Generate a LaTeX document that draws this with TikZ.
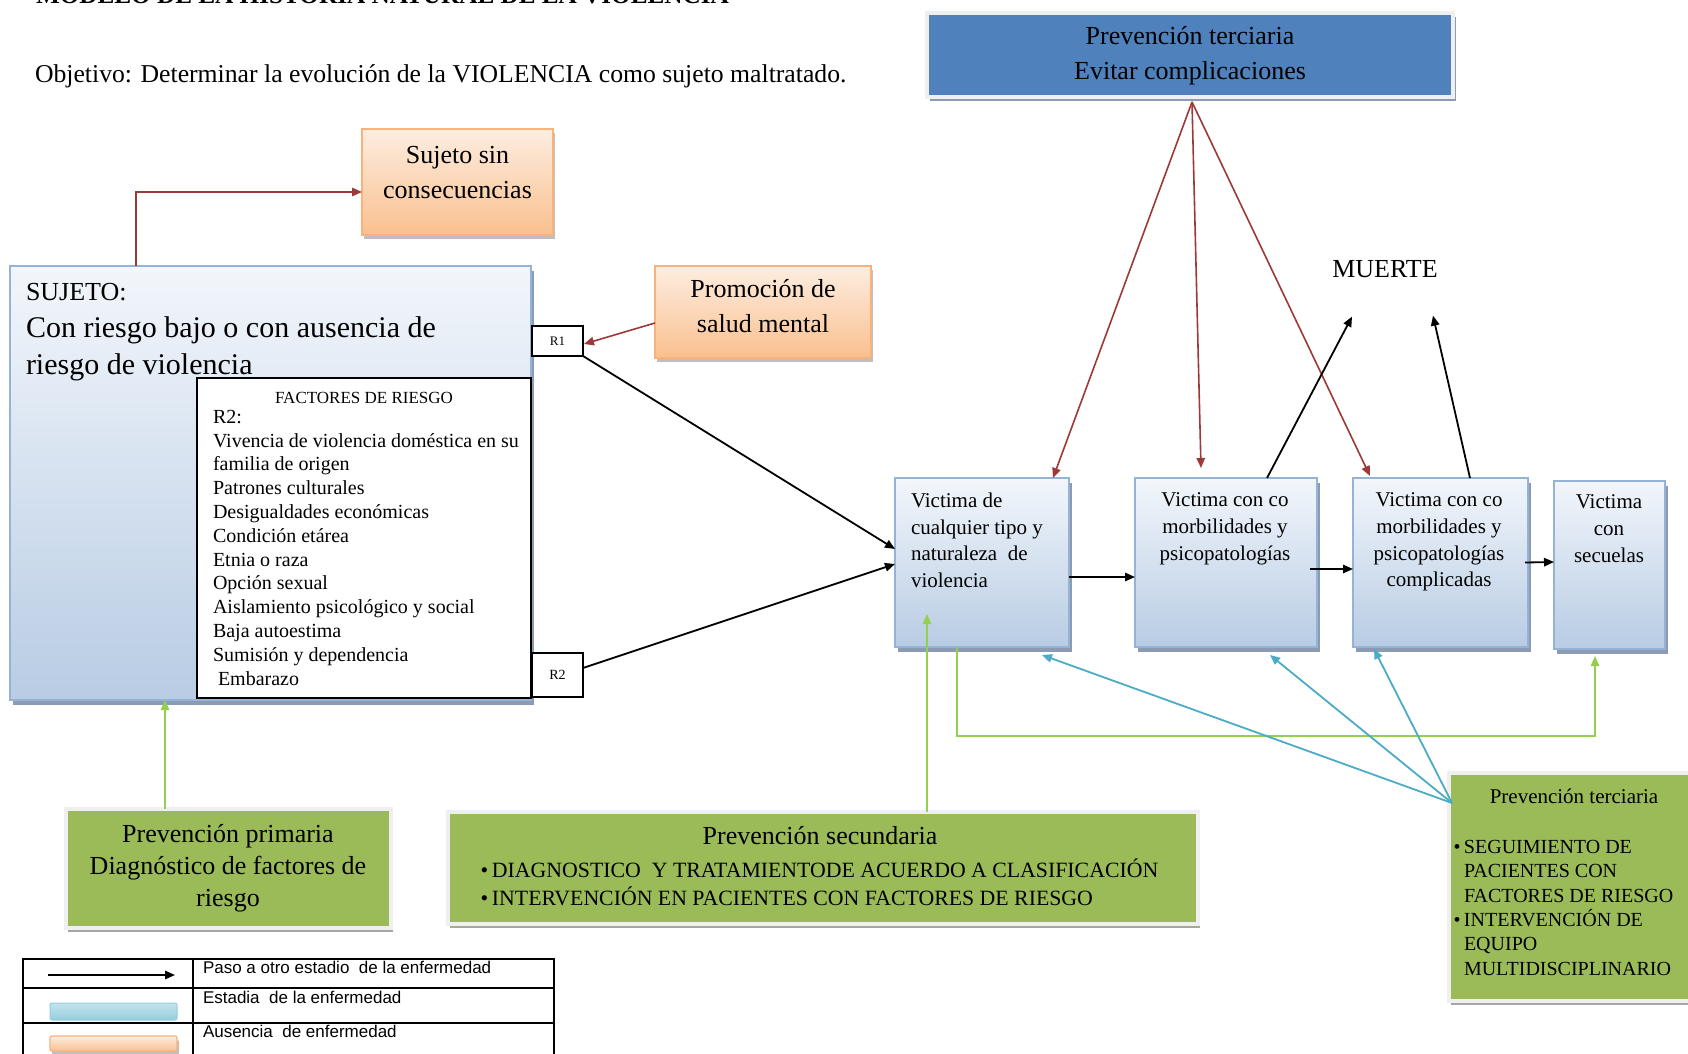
\documentclass[tikz,border=0pt]{standalone}
\usepackage{fontspec}
\setmainfont{Liberation Serif}
\newfontfamily\legfont{Liberation Sans}
\usetikzlibrary{arrows.meta,calc,fit,shadows}
\definecolor{vbtop}{HTML}{F2F6FB}
\definecolor{vbbot}{HTML}{B8CCE4}
\definecolor{vbdraw}{HTML}{95B3D7}
\definecolor{shadowc}{HTML}{8A9BB3}
\definecolor{ortop}{HTML}{FDEDE0}
\definecolor{orbot}{HTML}{FAC08F}
\definecolor{ordraw}{HTML}{F8B27C}
\definecolor{grfill}{HTML}{9BBB59}
\definecolor{grdraw}{HTML}{EFEFEF}
\definecolor{dkblue}{HTML}{4F81BD}
\definecolor{redc}{HTML}{9B3A38}
\definecolor{grline}{HTML}{92D050}
\definecolor{cyc}{HTML}{4BACC6}
\definecolor{lgbtop}{HTML}{C5E4EC}
\definecolor{lgbbot}{HTML}{93CDDD}
\newcommand\myfs[2]{\fontsize{#1}{#2}\selectfont}
\begin{document}
\begin{tikzpicture}[x=0.5pt,y=-0.5pt,
  box/.style={rectangle, inner sep=0pt, outer sep=0pt},
  vbox/.style={box, draw=vbdraw, line width=0.6pt, top color=vbtop, bottom color=vbbot,
    drop shadow={shadow xshift=1.5pt, shadow yshift=-2.5pt, fill=shadowc, opacity=1}},
  orbox/.style={box, draw=ordraw, line width=0.6pt, top color=ortop, bottom color=orbot,
    drop shadow={shadow xshift=1pt, shadow yshift=-2pt, fill=black!25, opacity=1}},
  grbox/.style={box, draw=grdraw, line width=1.8pt, fill=grfill,
    drop shadow={shadow xshift=1pt, shadow yshift=-2pt, fill=black!35, opacity=1}},
  dbbox/.style={box, draw=grdraw, line width=1.8pt, fill=dkblue,
    drop shadow={shadow xshift=1.5pt, shadow yshift=-2pt, fill=shadowc, opacity=1}},
  wbox/.style={box, draw=black, line width=0.9pt, fill=white},
  txt/.style={inner sep=0pt, outer sep=0pt, text=black},
  blkarrow/.style={draw=black, line width=0.9pt, -{Triangle[length=5pt,width=4.2pt]}},
  redarrow/.style={draw=redc, line width=0.8pt, -{Triangle[length=5pt,width=4.2pt]}},
  grarrow/.style={draw=grline, line width=0.8pt, -{Triangle[length=5pt,width=4.2pt]}},
  cyarrow/.style={draw=cyc, line width=0.9pt, -{Triangle[length=5pt,width=4.2pt]}},
]
\useasboundingbox (0,0) rectangle (1688,1054);
\fill[white] (0,0) rectangle (1688,1054);

% title (cut off at the top edge, as in the reference) and objective
\node[txt, anchor=base west, font=\bfseries\myfs{12.6}{14}] (ttl) at (36,3.5) {MODELO DE LA HISTORIA NATURAL DE LA VIOLENCIA};
\node[txt, anchor=base west, font=\myfs{12.85}{16}] (obj) at (35,83) {Objetivo: Determinar la evolución de la VIOLENCIA como sujeto maltratado.};

% boxes
\node[orbox, fit={(362,129) (553,235)}] (sin) {};
\node[txt, anchor=north, align=center, font=\myfs{13}{17.5}] (sint) at (457.5,146) {Sujeto sin\\consecuencias};

\node[vbox, fit={(10,266) (531,700)}] (suj) {};
\node[txt, anchor=base west, font=\myfs{13}{16}] (sujt1) at (26,300) {SUJETO:};
\node[txt, anchor=north west, align=left, font=\myfs{15}{18.5}] (sujt2) at (26,317) {Con riesgo bajo o con ausencia de\\riesgo de violencia};

\node[wbox, fit={(197,378) (531,698)}] (fac) {};
\node[txt, anchor=base, font=\myfs{8.5}{10}] (facth) at (364,403) {FACTORES DE RIESGO};
\node[txt, anchor=north west, align=left, font=\myfs{10}{11.9}] (factl) at (213,410) {R2:\\Vivencia de violencia doméstica en su\\familia de origen\\Patrones culturales\\Desigualdades económicas\\Condición etárea\\Etnia o raza\\Opción sexual\\Aislamiento psicológico y social\\Baja autoestima\\Sumisión y dependencia\\\ Embarazo};

\node[wbox, fit={(532,326) (583,356)}] (r1) {};
\node[txt, font=\myfs{6.5}{8}] (r1t) at (r1.center) {R1};
\node[wbox, fit={(532,653) (583,697)}] (r2) {};
\node[txt, font=\myfs{7}{8}] (r2t) at (r2.center) {R2};

\node[orbox, fit={(655,266) (871,358)}] (promo) {};
\node[txt, anchor=north, align=center, font=\myfs{13}{17.5}] (promot) at (763,279) {Promoción de\\salud mental};

\node[dbbox, fit={(927,13) (1453,97)}] (pt) {};
\node[txt, anchor=north, align=center, font=\myfs{13}{17.5}] (ptt) at (1190,26) {Prevención terciaria\\Evitar complicaciones};

\node[txt, anchor=base, font=\myfs{13}{16}] (muerte) at (1385,278) {MUERTE};

\node[vbox, fit={(895,478) (1069,647)}] (v1) {};
\node[txt, anchor=north west, align=left, font=\myfs{10.5}{13.3}] (v1t) at (911,493) {Victima de\\cualquier tipo y\\naturaleza\ \ de\\violencia};
\node[vbox, fit={(1135,478) (1317,647)}] (v2) {};
\node[txt, anchor=north, align=center, font=\myfs{10.5}{13.3}] (v2t) at (1225,493) {Victima con co\\morbilidades y\\psicopatologías};
\node[vbox, fit={(1353,478) (1528,647)}] (v3) {};
\node[txt, anchor=north, align=center, font=\myfs{10.5}{13.3}] (v3t) at (1439,493) {Victima con co\\morbilidades y\\psicopatologías\\complicadas};
\node[vbox, fit={(1554,481) (1665,649)}] (v4) {};
\node[txt, anchor=north, align=center, font=\myfs{10.5}{13.3}] (v4t) at (1609,495) {Victima\\con\\secuelas};

\node[grbox, fit={(66,809) (391,928)}] (pp) {};
\node[txt, anchor=north, align=center, font=\myfs{13}{16}] (ppt) at (228,824) {Prevención primaria\\Diagnóstico de factores de\\riesgo};

\node[grbox, fit={(448,812) (1198,924)}] (ps) {};
\node[txt, anchor=base, font=\myfs{13}{16}] (pst) at (820,844) {Prevención secundaria};
\node[txt, anchor=north west, align=left, font=\myfs{10.9}{14}] (psb) at (492,859) {\llap{•\,}DIAGNOSTICO\ \ Y TRATAMIENTODE ACUERDO A CLASIFICACIÓN\\\llap{•\,}INTERVENCIÓN EN PACIENTES CON FACTORES DE RIESGO};

\node[grbox, fit={(1449,773) (1700,1001)}] (pt2) {};
\node[txt, anchor=base, font=\myfs{10.5}{12}] (pt2t) at (1574,803) {Prevención terciaria};
\node[txt, anchor=north west, align=left, font=\myfs{10}{12.2}] (pt2b) at (1464,840) {\llap{•\,}SEGUIMIENTO DE\\PACIENTES CON\\FACTORES DE RIESGO\\\llap{•\,}INTERVENCIÓN DE\\EQUIPO\\MULTIDISCIPLINARIO};

% connectors
\draw[redarrow] ($(suj.north west)+(126,0)$) |- ($(sin.west)+(0,10)$);
\draw[redarrow] ($(promo.west)+(0,11)$) -- ($(r1.east)+(1,3)$);
\draw[blkarrow] (r1.south east) -- ($(v1.west)+(0,-13.5)$);
\draw[blkarrow] ($(r2.east)+(0,-7)$) -- ($(v1.west)+(0,1.5)$);
\draw[blkarrow] ($(v1.east)+(0,14.5)$) -- ($(v2.west)+(0,14.5)$);
\draw[blkarrow] ($(v2.east)+(-7,6.5)$) -- ($(v3.west)+(0,6.5)$);
\draw[blkarrow] ($(v3.east)+(-3,0)$) -- ($(v4.west)+(0,-3)$);

\draw[redarrow] ($(pt.south)+(2,5)$) -- ($(v1.north west)+(158,0)$);
\draw[redarrow] ($(pt.south)+(2,5)$) -- ($(v2.north west)+(66,-10)$);
\draw[redarrow] ($(pt.south)+(2,5)$) -- ($(v3.north west)+(17,-2)$);

\draw[blkarrow] ($(v2.north west)+(132,0)$) -- ($(muerte.center)+(-33,47)$);
\draw[blkarrow] ($(v3.north west)+(117,0)$) -- ($(muerte.center)+(48,46)$);

\draw[grarrow] ($(pp.north west)+(99,0)$) -- ($(suj.south west)+(155,0)$);
\draw[grarrow] ($(ps.north west)+(479,0)$) -- ($(v1.south west)+(32,-33)$);
\draw[grarrow] ($(v1.south west)+(62,0)$) -- ++(0,89) -| ($(v4.south west)+(41,7)$);

\draw[cyarrow] ($(pt2.north west)+(3,30)$) -- ($(v1.south east)+(-27,8)$);
\draw[cyarrow] ($(pt2.north west)+(3,30)$) -- ($(v2.south west)+(135,8)$);
\draw[cyarrow] ($(pt2.north west)+(3,30)$) -- ($(v3.south west)+(21,2)$);

% legend
\draw[black, line width=0.9pt] (23,959) rectangle (554,1070);
\draw[black, line width=0.9pt] (23,988) -- (554,988) (23,1023) -- (554,1023) (193,959) -- (193,1070);
\coordinate (lga) at (48,975);
\coordinate (lgb) at (175,975);
\draw[blkarrow] (lga) -- (lgb);
\node[box, draw=lgbbot, line width=0.5pt, top color=lgbtop, bottom color=lgbbot, rounded corners=1pt, fit={(50,1003) (177,1020)}] (lgbar1) {};
\node[orbox, rounded corners=1pt, fit={(50,1036) (177,1051)}] (lgbar2) {};
\node[txt, anchor=base west, font=\legfont\myfs{8.5}{10}] (lg1) at (203,973) {Paso a otro estadio\ \ de la enfermedad};
\node[txt, anchor=base west, font=\legfont\myfs{8.5}{10}] (lg2) at (203,1003) {Estadia\ \ de la enfermedad};
\node[txt, anchor=base west, font=\legfont\myfs{8.5}{10}] (lg3) at (203,1037) {Ausencia\ \ de enfermedad};
\end{tikzpicture}
\end{document}
